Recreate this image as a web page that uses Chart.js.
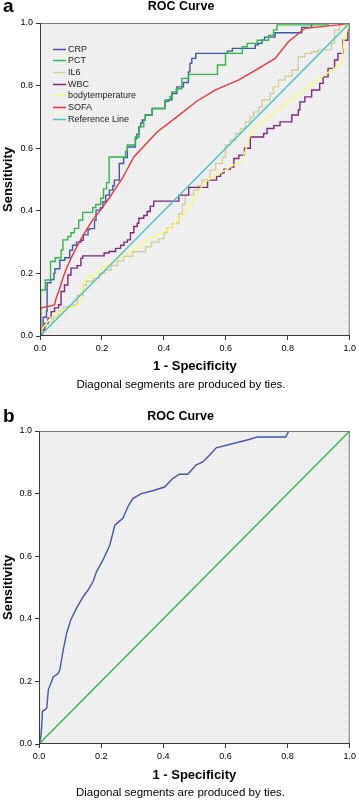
<!DOCTYPE html>
<html>
<head>
<meta charset="utf-8">
<title>ROC Curve</title>
<script src="https://cdn.jsdelivr.net/npm/chart.js@4.4.0/dist/chart.umd.min.js"></script>
<style>
    html, body { margin: 0; padding: 0; background: #fff; }
    body { width: 359px; height: 802px; position: relative; overflow: hidden; font-family: "Liberation Sans", Arial, sans-serif; }
    canvas { position: absolute; left: 0; }
    #chartA { top: 0; }
    #chartB { top: 394px; }
    .panel-tag { position: absolute; left: 3px; font-weight: bold; font-size: 19px; line-height: 19px; color: #000; }
</style>
</head>
<body>
<canvas id="chartA" width="359" height="394"></canvas>
<canvas id="chartB" width="359" height="408"></canvas>
<div class="panel-tag" style="top:-4px">a</div>
<div class="panel-tag" style="top:406px">b</div>
<script>
// ---- data (x = 1 - specificity, y = sensitivity) ----
var tickValues = [0, 0.2, 0.4, 0.6, 0.8, 1.0];
var tickLabels = ['0.0', '0.2', '0.4', '0.6', '0.8', '1.0'];

var seriesNamesA = ['CRP', 'PCT', 'IL6', 'WBC', 'bodytemperature', 'SOFA', 'Reference Line'];

var crpPts = [[0,0],[0.005,0.02],[0.01,0.06],[0.021,0.08],[0.023,0.17],[0.035,0.18],[0.045,0.2],[0.048,0.215],[0.064,0.242],[0.08,0.25],[0.096,0.274],[0.105,0.29],[0.118,0.3],[0.133,0.306],[0.14,0.323],[0.155,0.34],[0.16,0.343],[0.176,0.37],[0.181,0.402],[0.195,0.41],[0.203,0.428],[0.212,0.45],[0.224,0.466],[0.235,0.48],[0.24,0.498],[0.256,0.53],[0.256,0.551],[0.27,0.57],[0.282,0.604],[0.308,0.631],[0.313,0.645],[0.319,0.668],[0.325,0.68],[0.33,0.69],[0.34,0.706],[0.362,0.727],[0.404,0.75],[0.415,0.755],[0.426,0.775],[0.442,0.796],[0.463,0.81],[0.479,0.844],[0.484,0.871],[0.49,0.887],[0.503,0.903],[0.605,0.91],[0.621,0.919],[0.695,0.93],[0.705,0.935],[0.717,0.946],[0.725,0.955],[0.759,0.969],[0.845,0.986],[0.877,1],[1,1]];
var pctPts = [[0,0],[0.002,0.147],[0.017,0.179],[0.034,0.238],[0.049,0.25],[0.068,0.275],[0.074,0.307],[0.09,0.318],[0.1,0.33],[0.111,0.344],[0.125,0.37],[0.138,0.395],[0.17,0.41],[0.18,0.42],[0.196,0.44],[0.205,0.47],[0.215,0.49],[0.223,0.572],[0.276,0.59],[0.282,0.61],[0.308,0.636],[0.32,0.668],[0.335,0.69],[0.34,0.706],[0.362,0.727],[0.404,0.754],[0.42,0.765],[0.426,0.78],[0.44,0.79],[0.458,0.823],[0.48,0.836],[0.573,0.866],[0.599,0.903],[0.653,0.924],[0.669,0.935],[0.701,0.945],[0.738,0.96],[0.754,0.978],[0.765,0.994],[0.93,1],[1,1]];
var il6Pts = [[0,0],[0.011,0.029],[0.02,0.045],[0.043,0.061],[0.06,0.08],[0.075,0.093],[0.107,0.1],[0.12,0.13],[0.139,0.162],[0.15,0.175],[0.171,0.184],[0.192,0.2],[0.21,0.21],[0.23,0.225],[0.25,0.24],[0.27,0.255],[0.299,0.269],[0.341,0.285],[0.36,0.3],[0.384,0.311],[0.4,0.33],[0.41,0.345],[0.427,0.359],[0.448,0.39],[0.46,0.42],[0.469,0.45],[0.496,0.466],[0.51,0.48],[0.523,0.498],[0.549,0.53],[0.567,0.551],[0.589,0.572],[0.599,0.61],[0.615,0.626],[0.631,0.647],[0.647,0.663],[0.663,0.684],[0.679,0.7],[0.69,0.716],[0.706,0.732],[0.717,0.754],[0.743,0.775],[0.754,0.796],[0.77,0.818],[0.79,0.83],[0.813,0.85],[0.834,0.892],[0.855,0.903],[0.877,0.908],[0.898,0.914],[0.941,0.935],[0.951,0.978],[0.967,0.994],[1,1]];
var wbcPts = [[0,0],[0.004,0.02],[0.015,0.04],[0.026,0.057],[0.036,0.078],[0.047,0.09],[0.06,0.1],[0.068,0.142],[0.079,0.163],[0.09,0.195],[0.1,0.217],[0.12,0.225],[0.132,0.248],[0.138,0.256],[0.207,0.265],[0.223,0.27],[0.244,0.28],[0.26,0.29],[0.271,0.3],[0.282,0.307],[0.292,0.33],[0.303,0.35],[0.314,0.36],[0.319,0.376],[0.335,0.385],[0.346,0.398],[0.356,0.415],[0.367,0.431],[0.448,0.45],[0.48,0.475],[0.541,0.498],[0.57,0.51],[0.583,0.521],[0.594,0.533],[0.615,0.54],[0.626,0.567],[0.642,0.578],[0.66,0.6],[0.679,0.636],[0.722,0.647],[0.733,0.663],[0.755,0.672],[0.775,0.684],[0.813,0.706],[0.834,0.722],[0.839,0.748],[0.855,0.764],[0.877,0.786],[0.903,0.807],[0.914,0.828],[0.93,0.855],[0.951,0.882],[0.962,0.903],[0.978,0.945],[0.994,0.978],[1,1]];
var bodyTempPts = [[0,0],[0.005,0.018],[0.02,0.04],[0.032,0.055],[0.053,0.072],[0.08,0.085],[0.107,0.093],[0.128,0.104],[0.144,0.178],[0.16,0.19],[0.181,0.2],[0.207,0.222],[0.239,0.238],[0.292,0.27],[0.356,0.312],[0.42,0.344],[0.463,0.387],[0.5,0.44],[0.53,0.49],[0.653,0.562],[0.679,0.642],[0.695,0.668],[0.903,0.823],[0.973,0.871],[0.981,0.945],[0.994,0.983],[1,1]];
var sofaPts = [[0,0],[0.002,0.089],[0.047,0.099],[0.052,0.12],[0.063,0.15],[0.074,0.185],[0.085,0.215],[0.1,0.248],[0.122,0.291],[0.143,0.328],[0.17,0.371],[0.196,0.403],[0.223,0.44],[0.244,0.472],[0.266,0.504],[0.303,0.572],[0.378,0.652],[0.442,0.7],[0.506,0.75],[0.567,0.786],[0.642,0.818],[0.706,0.855],[0.759,0.887],[0.802,0.94],[0.855,0.983],[0.962,0.994],[1,1]];
var refPts = [[0,0],[1,1]];

// panel b
var rocPtsB = [[0,0],[0.003,0.008],[0.006,0.024],[0.009,0.062],[0.011,0.104],[0.019,0.109],[0.025,0.115],[0.03,0.173],[0.046,0.214],[0.062,0.226],[0.067,0.237],[0.078,0.301],[0.089,0.354],[0.102,0.396],[0.121,0.434],[0.142,0.471],[0.158,0.492],[0.174,0.519],[0.185,0.55],[0.206,0.588],[0.228,0.636],[0.244,0.699],[0.27,0.721],[0.286,0.758],[0.302,0.784],[0.329,0.8],[0.366,0.809],[0.404,0.821],[0.43,0.848],[0.452,0.862],[0.479,0.862],[0.505,0.891],[0.527,0.901],[0.548,0.922],[0.57,0.946],[0.676,0.973],[0.703,0.981],[0.794,0.981],[0.804,1],[1,1]];
var refPtsB = [[0,0],[1,1]];

var FONT = '"Liberation Sans", Arial, sans-serif';
// SPSS default palette
var spssColors = ['#3E58AC', '#2EB848', '#D3CE97', '#7C287D', '#FBF873', '#EF3338', '#48C2C5'];

function toXY(pts) {
    return pts.map(function (p) { return {x: p[0], y: p[1]}; });
}

function makeDataset(label, pts, color, stepped, n, i) {
    return {
        label: label,
        data: toXY(pts),
        borderColor: color,
        backgroundColor: color,
        borderWidth: 1.4,
        pointRadius: 0,
        fill: false,
        tension: 0,
        stepped: stepped ? 'before' : false,
        order: n - i  // later series on top, like SPSS
    };
}

function dotPattern(ctx) {
    var c = document.createElement('canvas');
    c.width = 2;
    c.height = 2;
    var p = c.getContext('2d');
    p.fillStyle = '#f3f3f3';
    p.fillRect(0, 0, 2, 2);
    p.fillStyle = '#e4e4e4';
    p.fillRect(0, 0, 1, 1);
    return ctx.createPattern(c, 'repeat');
}

// grey plot background + frame
var plotFrame = {
    id: 'plotFrame',
    beforeDatasetsDraw: function (chart) {
        var ctx = chart.ctx, a = chart.chartArea;
        ctx.save();
        ctx.fillStyle = dotPattern(ctx);
        ctx.fillRect(a.left, a.top, a.right - a.left, a.bottom - a.top);
        ctx.restore();
    },
    afterDatasetsDraw: function (chart) {
        var ctx = chart.ctx, a = chart.chartArea;
        ctx.save();
        ctx.lineWidth = 1;
        ctx.strokeStyle = '#777';
        ctx.beginPath();
        ctx.moveTo(a.left, a.top + 0.5);
        ctx.lineTo(a.right, a.top + 0.5);
        ctx.moveTo(a.right - 0.5, a.top);
        ctx.lineTo(a.right - 0.5, a.bottom);
        ctx.stroke();
        ctx.strokeStyle = '#3a3a3a';
        ctx.beginPath();
        ctx.moveTo(a.left + 0.5, a.top);
        ctx.lineTo(a.left + 0.5, a.bottom);
        ctx.moveTo(a.left, a.bottom - 0.5);
        ctx.lineTo(a.right, a.bottom - 0.5);
        ctx.stroke();
        ctx.restore();
    }
};

// legend drawn inside the plot, top-left
var insideLegend = {
    id: 'insideLegend',
    afterDatasetsDraw: function (chart, args, opts) {
        if (!opts.display) return;
        var ctx = chart.ctx, a = chart.chartArea;
        ctx.save();
        ctx.font = '9px ' + FONT;
        ctx.textBaseline = 'middle';
        ctx.textAlign = 'left';
        chart.data.datasets.forEach(function (ds, i) {
            var y = Math.round(a.top + opts.top + i * opts.rowHeight) + 0.5;
            ctx.strokeStyle = ds.borderColor;
            ctx.lineWidth = 1.5;
            ctx.beginPath();
            ctx.moveTo(a.left + opts.lineStart, y);
            ctx.lineTo(a.left + opts.lineEnd, y);
            ctx.stroke();
            ctx.fillStyle = '#222';
            ctx.fillText(ds.label, a.left + opts.textStart, y);
        });
        ctx.restore();
    }
};

function axisOptions(title, titlePadding, fit) {
    return {
        type: 'linear',
        min: 0,
        max: 1,
        afterBuildTicks: function (s) {
            s.ticks = tickValues.map(function (v) { return {value: v}; });
        },
        afterFit: fit,
        border: {display: false},
        grid: {drawOnChartArea: false, drawTicks: true, tickLength: 4, color: '#333', lineWidth: 1},
        ticks: {
            autoSkip: false,
            maxRotation: 0,
            padding: 3,
            color: '#000',
            font: {family: FONT, size: 9, lineHeight: 1.2},
            callback: function (v, i) { return tickLabels[i]; }
        },
        title: {
            display: true,
            text: title,
            color: '#000',
            font: {family: FONT, size: 13, weight: 'bold', lineHeight: 1.2},
            padding: titlePadding
        }
    };
}

function rocChart(canvasId, datasets, cfg) {
    var ctx = document.getElementById(canvasId).getContext('2d');
    return new Chart(ctx, {
        type: 'line',
        data: {datasets: datasets},
        plugins: [plotFrame, insideLegend],
        options: {
            responsive: false,
            animation: false,
            devicePixelRatio: 1,
            layout: {padding: {left: 10, right: cfg.padRight, top: 0, bottom: 0}},
            plugins: {
                legend: {display: false},
                tooltip: {enabled: false},
                title: {
                    display: true,
                    text: 'ROC Curve',
                    color: '#000',
                    font: {family: FONT, size: 12.5, weight: 'bold', lineHeight: 1},
                    padding: {top: cfg.titleTop, bottom: cfg.titleBottom}
                },
                subtitle: {
                    display: true,
                    position: 'bottom',
                    text: 'Diagonal segments are produced by ties.',
                    color: '#000',
                    font: {family: FONT, size: 11.5, lineHeight: 1.2},
                    padding: {top: 0, bottom: cfg.noteBottom}
                },
                insideLegend: {display: cfg.legend, top: 25.5, rowHeight: 11.7, lineStart: 13, lineEnd: 26, textStart: 28}
            },
            scales: {
                x: axisOptions('1 - Specificity', {top: 0, bottom: 3}, function (s) { s.height = cfg.xAxisHeight; }),
                y: axisOptions('Sensitivity', {top: -9.8, bottom: 0}, function (s) { s.width = cfg.yAxisWidth; })
            }
        }
    });
}

// panel a
var seriesA = [crpPts, pctPts, il6Pts, wbcPts, bodyTempPts, sofaPts, refPts];
var steppedA = [true, true, true, true, false, false, false];
var datasetsA = seriesA.map(function (pts, i) {
    return makeDataset(seriesNamesA[i], pts, spssColors[i], steppedA[i], seriesA.length, i);
});
rocChart('chartA', datasetsA, {
    padRight: 7, yAxisWidth: 30, xAxisHeight: 41.6,
    titleTop: 0, titleBottom: 10.5, noteBottom: 2.6, legend: true
});

// panel b
var datasetsB = [
    makeDataset('Test', rocPtsB, spssColors[0], false, 2, 0),
    makeDataset('Reference Line', refPtsB, spssColors[1], false, 2, 1)
];
rocChart('chartB', datasetsB, {
    padRight: 8, yAxisWidth: 29, xAxisHeight: 42.1,
    titleTop: 16, titleBottom: 8.5, noteBottom: 2.1, legend: false
});
</script>
</body>
</html>
